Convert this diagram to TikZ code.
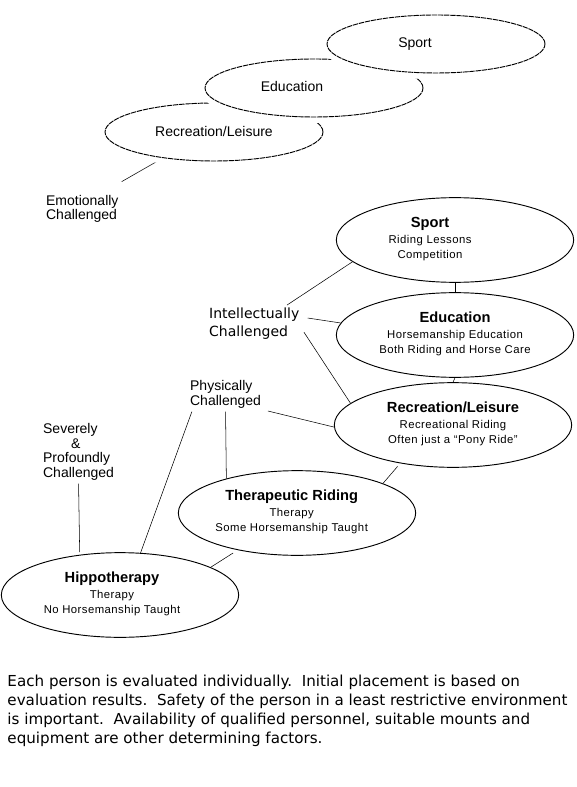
\documentclass[tikz,border=0pt]{standalone}
\usepackage{fontspec}
\setmainfont{Liberation Sans}
\newfontfamily\genevafont{DejaVu Sans}
\newfontfamily\subfont[LetterSpace=4]{Liberation Sans}
\usetikzlibrary{shapes.geometric,backgrounds}
\newcommand{\ttl}{\normalfont\fontsize{11}{11.5}\selectfont\bfseries}
\newcommand{\ellbox}[2][0pt]{\begin{tabular}{@{}c@{}}#2\end{tabular}\hspace*{#1}}

\begin{document}
\begin{tikzpicture}[x=.75pt,y=-.75pt,line width=.7pt,
  oval/.style={ellipse,draw,fill=white,inner sep=0pt},
  faint/.style={oval,minimum width=163.5pt,minimum height=43.5pt,
    dash pattern=on 4pt off .6pt,preaction={draw=white,solid,line width=9pt},
    font=\fontsize{10.5}{12}\selectfont},
  level/.style={oval,minimum width=178pt,minimum height=63.5pt,
    font=\subfont\fontsize{8.5}{11.5}\selectfont},
  lbl/.style={anchor=west,inner sep=2pt,align=left}]
\useasboundingbox (0,0) rectangle (576,787);

% upper picture
\node[faint] (rec1) at (214,132) {Recreation/Leisure};
\node[faint] (edu1) at (314,88) {\ellbox[33pt]{Education}};
\node[faint] (sport1) at (436,44) {\ellbox[31.5pt]{Sport}};
\node[lbl,font=\fontsize{10.5}{10.5}\selectfont] (emo) at (43,209) {Emotionally\\Challenged};

% lower picture
\node[level] (sport2) at (455,240) {\ellbox[37.5pt]{\ttl Sport\\Riding Lessons\\Competition}};
\node[level] (edu2) at (455,335) {\ellbox{\ttl Education\\Horsemanship Education\\Both Riding and Horse Care}};
\node[level] (rec2) at (453,425) {\ellbox{\ttl Recreation/Leisure\\Recreational Riding\\Often just a “Pony Ride”}};
\node[level] (ther) at (297,513) {\ellbox[8pt]{\ttl Therapeutic Riding\\Therapy\\Some Horsemanship Taught}};
\node[level] (hippo) at (120,595) {\ellbox[12pt]{\ttl Hippotherapy\\Therapy\\No Horsemanship Taught}};

\node[lbl,font=\genevafont\fontsize{10.5}{13.5}\selectfont] (intel) at (206,324) {Intellectually\\Challenged};
\node[lbl,font=\fontsize{10.5}{11.25}\selectfont] (phys) at (187,394.5) {Physically\\Challenged};
\node[lbl,font=\fontsize{10.5}{11}\selectfont] (sev) at (40,452) {Severely\\\hspace*{21pt}\&\\Profoundly\\Challenged};

\node[anchor=north west,inner sep=0pt,align=left,font=\genevafont\fontsize{11.35}{14.2}\selectfont] (note) at (7,675)
  {Each person is evaluated individually.\ \ Initial placement is based on\\
   evaluation results.\ \ Safety of the person in a least restrictive environment\\
   is important.\ \ Availability of qualified personnel, suitable mounts and\\
   equipment are other determining factors.};

\begin{scope}[on background layer]
\draw (rec1.207) -- ([yshift=8pt]emo.north east);
\draw (intel.30) -- (sport2.192);
\draw[shorten <=4pt] (intel.8) -- (edu2.174);
\draw[shorten <=2pt] (intel.-7) -- (rec2.168);
\draw (sport2.south) -- (edu2.north);
\draw (edu2.south) -- (rec2.north);
\draw[shorten <=3pt] (phys.-22) -- (rec2.181);
\draw (phys.south) -- (ther.154);
\draw (phys.207) -- (hippo.64);
\draw[shorten >=2pt] (sev.south) -- (hippo.135);
\draw[shorten <=3pt] (rec2.216) -- (ther.19);
\draw[shorten <=4pt] (ther.212) -- (hippo.17);
\end{scope}
\end{tikzpicture}
\end{document}
